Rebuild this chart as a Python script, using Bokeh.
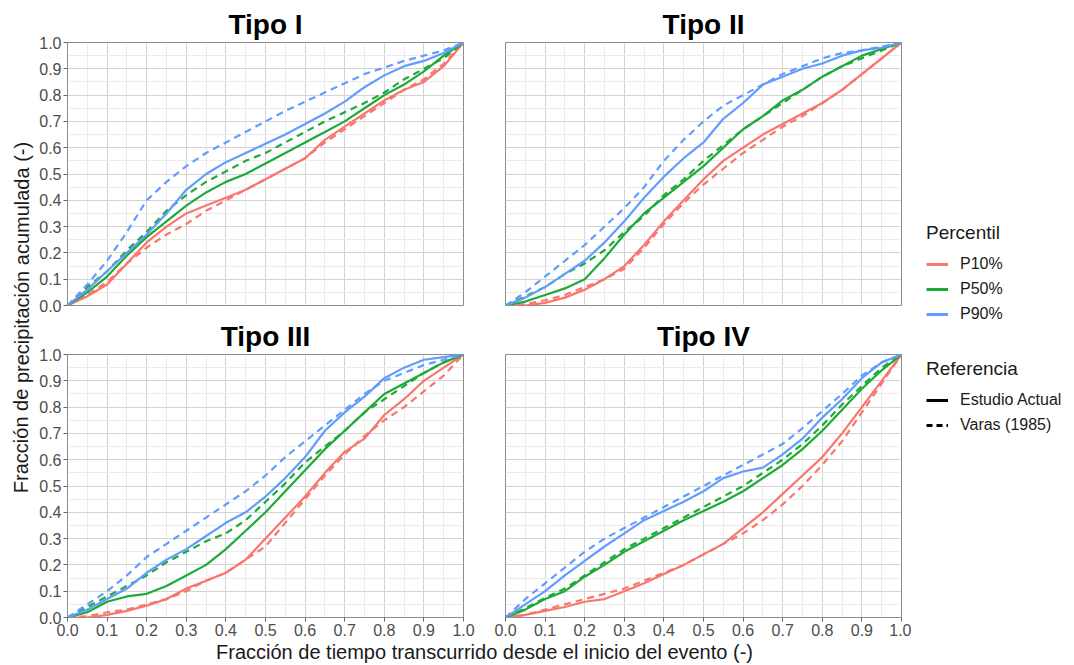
from bokeh.plotting import figure
from bokeh.layouts import row, column
from bokeh.models import Range1d, FixedTicker, Label, Legend, LegendItem
from bokeh.embed import file_html
from bokeh.resources import INLINE

# ---------------- data ----------------
t = [0.0, 0.05, 0.1, 0.15, 0.2, 0.25, 0.3, 0.35, 0.4, 0.45, 0.5,
     0.55, 0.6, 0.65, 0.7, 0.75, 0.8, 0.85, 0.9, 0.95, 1.0]

panel_titles = ["Tipo I", "Tipo II", "Tipo III", "Tipo IV"]
percentiles = ["P10%", "P50%", "P90%"]
references = ["Estudio Actual", "Varas (1985)"]
tick_values = [0.0, 0.1, 0.2, 0.3, 0.4, 0.5, 0.6, 0.7, 0.8, 0.9, 1.0]
tick_labels = ["0.0", "0.1", "0.2", "0.3", "0.4", "0.5", "0.6", "0.7", "0.8", "0.9", "1.0"]
minor_values = [0.05, 0.15, 0.25, 0.35, 0.45, 0.55, 0.65, 0.75, 0.85, 0.95]

# Tipo I
t1_p10_actual = [0, 0.035, 0.08, 0.16, 0.24, 0.30, 0.35, 0.38, 0.41, 0.44, 0.48, 0.52, 0.56, 0.63, 0.68, 0.73, 0.78, 0.82, 0.85, 0.91, 1.0]
t1_p10_varas  = [0, 0.04, 0.09, 0.16, 0.22, 0.27, 0.31, 0.36, 0.40, 0.44, 0.48, 0.52, 0.56, 0.62, 0.67, 0.72, 0.77, 0.82, 0.86, 0.92, 1.0]
t1_p50_actual = [0, 0.05, 0.11, 0.19, 0.26, 0.32, 0.38, 0.43, 0.47, 0.50, 0.54, 0.58, 0.62, 0.66, 0.70, 0.75, 0.80, 0.84, 0.89, 0.95, 1.0]
t1_p50_varas  = [0, 0.07, 0.13, 0.21, 0.28, 0.36, 0.42, 0.47, 0.51, 0.55, 0.58, 0.62, 0.66, 0.70, 0.735, 0.77, 0.81, 0.86, 0.90, 0.94, 1.0]
t1_p90_actual = [0, 0.06, 0.13, 0.20, 0.27, 0.35, 0.44, 0.50, 0.545, 0.58, 0.615, 0.65, 0.69, 0.73, 0.775, 0.83, 0.875, 0.91, 0.93, 0.96, 1.0]
t1_p90_varas  = [0, 0.08, 0.17, 0.28, 0.40, 0.47, 0.53, 0.58, 0.62, 0.66, 0.70, 0.74, 0.775, 0.81, 0.845, 0.88, 0.905, 0.93, 0.95, 0.97, 1.0]
# Tipo II
t2_p10_actual = [0, 0.0, 0.01, 0.03, 0.06, 0.10, 0.15, 0.23, 0.32, 0.40, 0.48, 0.55, 0.60, 0.65, 0.69, 0.73, 0.77, 0.82, 0.88, 0.94, 1.0]
t2_p10_varas  = [0, 0.005, 0.02, 0.04, 0.07, 0.10, 0.14, 0.22, 0.31, 0.39, 0.46, 0.52, 0.58, 0.63, 0.68, 0.72, 0.77, 0.82, 0.88, 0.94, 1.0]
t2_p50_actual = [0, 0.015, 0.04, 0.065, 0.10, 0.18, 0.27, 0.35, 0.41, 0.47, 0.53, 0.60, 0.67, 0.72, 0.78, 0.82, 0.87, 0.91, 0.95, 0.975, 1.0]
t2_p50_varas  = [0, 0.035, 0.07, 0.12, 0.16, 0.21, 0.28, 0.34, 0.42, 0.48, 0.55, 0.61, 0.67, 0.72, 0.77, 0.82, 0.87, 0.91, 0.94, 0.97, 1.0]
t2_p90_actual = [0, 0.03, 0.07, 0.12, 0.17, 0.24, 0.32, 0.41, 0.49, 0.56, 0.62, 0.71, 0.77, 0.84, 0.87, 0.90, 0.92, 0.95, 0.97, 0.98, 1.0]
t2_p90_varas  = [0, 0.05, 0.11, 0.17, 0.23, 0.30, 0.37, 0.45, 0.55, 0.63, 0.70, 0.76, 0.80, 0.84, 0.88, 0.91, 0.94, 0.96, 0.97, 0.985, 1.0]
# Tipo III
t3_p10_actual = [0, 0.0, 0.01, 0.025, 0.045, 0.07, 0.11, 0.14, 0.17, 0.22, 0.30, 0.38, 0.46, 0.55, 0.63, 0.68, 0.77, 0.83, 0.90, 0.95, 1.0]
t3_p10_varas  = [0, 0.005, 0.02, 0.03, 0.05, 0.07, 0.10, 0.14, 0.17, 0.22, 0.27, 0.36, 0.45, 0.54, 0.62, 0.69, 0.75, 0.80, 0.86, 0.92, 1.0]
t3_p50_actual = [0, 0.02, 0.06, 0.08, 0.09, 0.12, 0.16, 0.20, 0.26, 0.33, 0.40, 0.48, 0.56, 0.64, 0.71, 0.78, 0.85, 0.89, 0.93, 0.97, 1.0]
t3_p50_varas  = [0, 0.04, 0.08, 0.12, 0.16, 0.21, 0.25, 0.29, 0.32, 0.37, 0.44, 0.51, 0.59, 0.65, 0.71, 0.78, 0.83, 0.88, 0.93, 0.97, 1.0]
t3_p90_actual = [0, 0.03, 0.07, 0.11, 0.17, 0.22, 0.26, 0.31, 0.36, 0.40, 0.46, 0.53, 0.61, 0.71, 0.78, 0.84, 0.91, 0.95, 0.98, 0.99, 1.0]
t3_p90_varas  = [0, 0.05, 0.10, 0.16, 0.23, 0.28, 0.33, 0.38, 0.43, 0.48, 0.54, 0.61, 0.67, 0.73, 0.79, 0.85, 0.90, 0.93, 0.96, 0.98, 1.0]
# Tipo IV
t4_p10_actual = [0, 0.01, 0.025, 0.04, 0.06, 0.07, 0.10, 0.13, 0.165, 0.20, 0.24, 0.28, 0.34, 0.40, 0.47, 0.54, 0.61, 0.70, 0.80, 0.90, 1.0]
t4_p10_varas  = [0, 0.01, 0.03, 0.05, 0.07, 0.09, 0.11, 0.14, 0.17, 0.20, 0.24, 0.28, 0.32, 0.37, 0.43, 0.50, 0.58, 0.67, 0.78, 0.89, 1.0]
t4_p50_actual = [0, 0.03, 0.07, 0.10, 0.155, 0.20, 0.25, 0.29, 0.33, 0.37, 0.405, 0.44, 0.48, 0.53, 0.58, 0.64, 0.71, 0.79, 0.87, 0.94, 1.0]
t4_p50_varas  = [0, 0.035, 0.075, 0.11, 0.16, 0.21, 0.26, 0.30, 0.34, 0.38, 0.42, 0.46, 0.50, 0.55, 0.60, 0.66, 0.73, 0.81, 0.88, 0.95, 1.0]
t4_p90_actual = [0, 0.05, 0.10, 0.16, 0.215, 0.27, 0.32, 0.37, 0.405, 0.44, 0.48, 0.53, 0.555, 0.57, 0.62, 0.68, 0.76, 0.83, 0.91, 0.97, 1.0]
t4_p90_varas  = [0, 0.07, 0.13, 0.19, 0.25, 0.30, 0.34, 0.38, 0.42, 0.46, 0.50, 0.54, 0.58, 0.62, 0.66, 0.72, 0.785, 0.85, 0.92, 0.97, 1.0]

panels = [
    [(t1_p10_actual, t1_p10_varas), (t1_p50_actual, t1_p50_varas), (t1_p90_actual, t1_p90_varas)],
    [(t2_p10_actual, t2_p10_varas), (t2_p50_actual, t2_p50_varas), (t2_p90_actual, t2_p90_varas)],
    [(t3_p10_actual, t3_p10_varas), (t3_p50_actual, t3_p50_varas), (t3_p90_actual, t3_p90_varas)],
    [(t4_p10_actual, t4_p10_varas), (t4_p50_actual, t4_p50_varas), (t4_p90_actual, t4_p90_varas)],
]

colors = ["#F8766D", "#1DAA37", "#619CFF"]
dashes = ["solid", "7 5"]
FONT = "Liberation Sans"

def make_panel(idx, show_x, show_y, width, height, ml, mr, mt, mb):
    p = figure(width=width, height=height, output_backend="svg", toolbar_location=None,
               x_range=Range1d(0, 1), y_range=Range1d(0, 1),
               min_border_left=ml, min_border_right=mr, min_border_top=mt, min_border_bottom=mb,
               title=panel_titles[idx])
    p.title.align = "center"
    p.title.text_font = FONT
    p.title.text_font_size = "28px"
    p.title.text_font_style = "bold"
    p.title.text_color = "#000000"
    p.title.standoff = 6
    p.outline_line_color = "#8c8c8c"
    p.outline_line_width = 1
    p.background_fill_color = "white"
    p.border_fill_color = "white"
    ticker = FixedTicker(ticks=tick_values, minor_ticks=minor_values)
    for ax in (p.xaxis[0], p.yaxis[0]):
        ax.ticker = ticker
        ax.major_label_overrides = {v: s for v, s in zip(tick_values, tick_labels)}
        ax.axis_line_color = None
        ax.major_tick_line_color = "#666666"
        ax.major_tick_in = 0
        ax.major_tick_out = 4
        ax.minor_tick_line_color = None
        ax.major_label_text_font = FONT
        ax.major_label_text_font_size = "16px"
        ax.major_label_text_color = "#4d4d4d"
        ax.major_label_standoff = 2
    p.xaxis.visible = show_x
    p.yaxis.visible = show_y
    for g in (p.xgrid[0], p.ygrid[0]):
        g.ticker = ticker
        g.grid_line_color = "#d3d3d3"
        g.grid_line_width = 1
        g.minor_grid_line_color = "#ebebeb"
        g.minor_grid_line_width = 1
    for ci, pair in enumerate(panels[idx]):
        for ri, ys in enumerate(pair):
            p.line(t, ys, line_color=colors[ci], line_width=2.2, line_dash=dashes[ri])
    return p

p1 = make_panel(0, False, True, 448, 315, 31, 21, 42, 10)
p2 = make_panel(1, False, False, 427, 315, 21, 10, 42, 10)
p3 = make_panel(2, True, True, 448, 324, 31, 21, 38, 22)
p4 = make_panel(3, True, False, 427, 324, 21, 10, 38, 22)

def blank(width, height):
    b = figure(width=width, height=height, output_backend="svg", toolbar_location=None,
               x_range=Range1d(0, 1), y_range=Range1d(0, 1),
               min_border=0)
    b.axis.visible = False
    b.grid.visible = False
    b.outline_line_color = None
    return b

ystrip = blank(36, 665)
ystrip.add_layout(Label(x=21, y=665 - 317, x_units="screen", y_units="screen",
                        text="Fracción de precipitación acumulada (-)", angle=1.5707963,
                        text_align="center", text_baseline="middle",
                        text_font=FONT, text_font_size="20px", text_color="#1a1a1a"))

xstrip = blank(875, 26)
xstrip.add_layout(Label(x=448, y=14, x_units="screen", y_units="screen",
                        text="Fracción de tiempo transcurrido desde el inicio del evento (-)",
                        text_align="center", text_baseline="middle",
                        text_font=FONT, text_font_size="20px", text_color="#1a1a1a"))

nan = float("nan")
leg = blank(163, 665)
pct_items = []
for ci, name in enumerate(percentiles):
    r = leg.line([nan], [nan], line_color=colors[ci], line_width=3)
    pct_items.append(LegendItem(label=name, renderers=[r]))
ref_items = []
for ri, name in enumerate(references):
    r = leg.line([nan], [nan], line_color="black", line_width=3,
                 line_dash="solid" if ri == 0 else "6 4")
    ref_items.append(LegendItem(label=name, renderers=[r]))

def style_legend(lg):
    lg.title_text_font = FONT
    lg.title_text_font_size = "19px"
    lg.title_text_font_style = "normal"
    lg.title_text_color = "#1a1a1a"
    lg.title_standoff = 10
    lg.label_text_font = FONT
    lg.label_text_font_size = "16px"
    lg.label_text_color = "#1a1a1a"
    lg.glyph_width = 22
    lg.glyph_height = 20
    lg.label_height = 20
    lg.label_standoff = 12
    lg.spacing = 5
    lg.padding = 0
    lg.margin = 0
    lg.border_line_color = None
    lg.background_fill_alpha = 0

lg1 = Legend(items=pct_items, title="Percentil", location=(15, 341))
lg2 = Legend(items=ref_items, title="Referencia", location=(15, 230))
style_legend(lg1)
style_legend(lg2)
leg.add_layout(lg1)
leg.add_layout(lg2)

layout = row(ystrip,
             column(row(p1, p2), row(p3, p4), xstrip),
             leg)

open("out.html", "w").write(file_html(layout, INLINE))
